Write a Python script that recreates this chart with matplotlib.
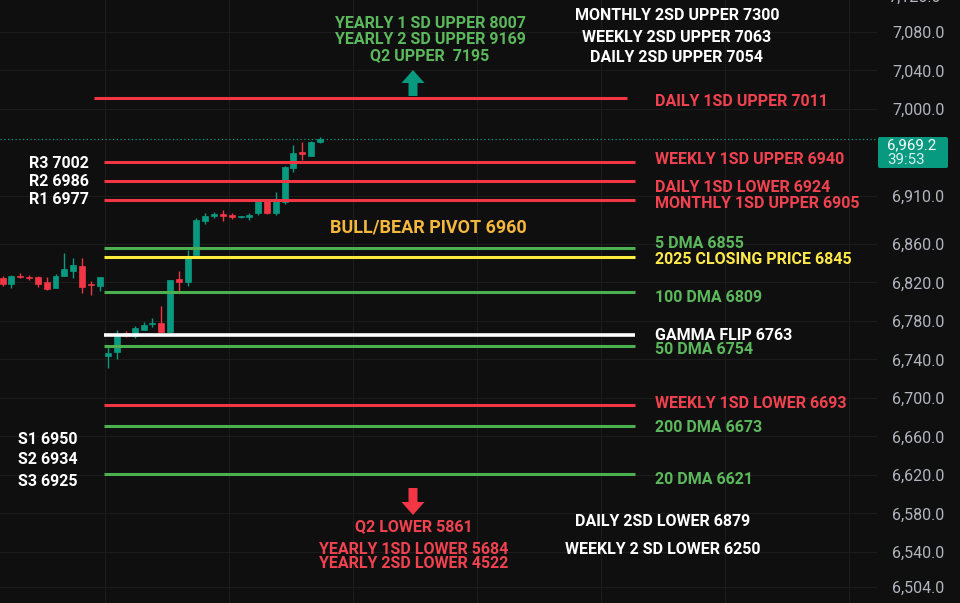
import matplotlib
matplotlib.use("Agg")
import matplotlib.pyplot as plt
from matplotlib.patches import Rectangle, FancyArrow, FancyBboxPatch

# ---------------- data ----------------
opens  = [6825, 6818, 6827, 6826, 6826, 6820, 6814, 6827, 6832, 6837, 6818, 6816,
          6744, 6748, 6767, 6764, 6771, 6777, 6778, 6768, 6823, 6820, 6848, 6884,
          6889, 6891, 6890, 6888, 6888, 6892, 6906, 6892, 6903, 6939, 6955, 6951, 6966]
highs  = [6827, 6828, 6830, 6828, 6827, 6826, 6829, 6850, 6845, 6845, 6821, 6826,
          6755, 6771, 6769, 6775, 6779, 6783, 6795, 6822, 6832, 6854, 6887, 6892,
          6893, 6895, 6892, 6889, 6892, 6905, 6907, 6914, 6941, 6963, 6966, 6967, 6971]
lows   = [6816, 6814, 6824, 6822, 6815, 6812, 6814, 6827, 6824, 6809, 6807, 6811,
          6731, 6740, 6763, 6762, 6771, 6774, 6768, 6767, 6810, 6816, 6848, 6881,
          6887, 6884, 6886, 6887, 6885, 6890, 6891, 6890, 6901, 6935, 6947, 6951, 6965]
closes = [6818, 6827, 6826, 6825, 6818, 6813, 6827, 6834, 6838, 6815, 6817, 6826,
          6747, 6766, 6764, 6773, 6776, 6778, 6768, 6822, 6820, 6846, 6885, 6889,
          6891, 6889, 6888, 6889, 6890, 6904, 6892, 6904, 6940, 6954, 6953, 6966, 6969]
last_price = 6969.2
countdown = "39:53"

level_values = [7011, 6945, 6925, 6906, 6856, 6846, 6810, 6765, 6754, 6693, 6671, 6621]
level_kinds  = ["red", "red", "red", "red", "green", "yellow", "green", "white",
                "green", "red", "green", "green"]

right_labels = ["DAILY 1SD UPPER 7011", "WEEKLY 1SD UPPER 6940", "DAILY 1SD LOWER 6924",
                "MONTHLY 1SD UPPER 6905", "5 DMA 6855", "2025 CLOSING PRICE 6845",
                "100 DMA 6809", "GAMMA FLIP 6763", "50 DMA 6754",
                "WEEKLY 1SD LOWER 6693", "200 DMA 6673", "20 DMA 6621"]
right_label_kinds = ["red", "red", "red", "red", "green", "yellow", "green", "white",
                     "green", "red", "green", "green"]

pivot_labels = ["R3 7002", "R2 6986", "R1 6977"]
support_labels = ["S1 6950", "S2 6934", "S3 6925"]
top_green = ["YEARLY 1 SD UPPER 8007", "YEARLY 2 SD UPPER 9169", "Q2 UPPER  7195"]
top_white = ["MONTHLY 2SD UPPER 7300", "WEEKLY 2SD UPPER 7063", "DAILY 2SD UPPER 7054"]
bottom_red = ["Q2 LOWER 5861", "YEARLY 1SD LOWER 5684", "YEARLY 2SD LOWER 4522"]
bottom_white = ["DAILY 2SD LOWER 6879", "WEEKLY 2 SD LOWER 6250"]
bull_bear = "BULL/BEAR PIVOT 6960"

yticks = [7080, 7040, 7000, 6910, 6860, 6820, 6780, 6740, 6700, 6660, 6620,
          6580, 6540, 6504]
top_partial_tick = 7120

# ---------------- style ----------------
BG = "#0f0f0f"
UP = "#089981"
DOWN = "#f23645"
COL = {"red": "#f23645", "green": "#4caf50", "yellow": "#ffeb3b", "white": "#ffffff"}
TXT = {"red": "#f0424f", "green": "#5cb85c", "yellow": "#ffe94a", "white": "#ffffff"}
FONT = "Roboto"
FS = 11.5

W, H = 960, 603
fig = plt.figure(figsize=(9.6, 6.03), dpi=100, facecolor=BG)
AXW = 877
ax = fig.add_axes([0, 0, AXW / W, 1])
ax.set_facecolor(BG)

STEP = 8.81  # pixels per bar
xmin = -0.3
xmax = xmin + AXW / STEP
ymax = 7113.2
ymin = 6487.0

def bx(px):
    return xmin + px / STEP

# grid
for t in yticks:
    ax.axhline(t, color="#1c1c1c", lw=0.8, zorder=0)
for gx in [105, 229, 353, 477, 601, 725, 849]:
    ax.axvline(bx(gx), color="#1c1c1c", lw=0.8, zorder=0)

# candles
bw = 0.68
for i, (o, h, l, c) in enumerate(zip(opens, highs, lows, closes)):
    col = UP if c >= o else DOWN
    ax.plot([i, i], [l, h], color=col, lw=1.0, zorder=3, solid_capstyle="butt")
    bot = min(o, c)
    hgt = max(abs(c - o), 0.8)
    ax.add_patch(Rectangle((i - bw / 2, bot), bw, hgt, facecolor=col, edgecolor=col,
                           lw=0.5, zorder=4))

# current price dotted line
ax.axhline(last_price, color=UP, lw=0.9, ls=(0, (1, 2)), zorder=2)

# horizontal levels
for k, (v, kind) in enumerate(zip(level_values, level_kinds)):
    if k == 0:
        x0, x1 = bx(94), bx(627)
    else:
        x0, x1 = bx(104), bx(635)
    ax.plot([x0, x1], [v, v], color=COL[kind], lw=2.2 if kind != "white" else 2.6,
            zorder=5, solid_capstyle="butt")

# y axis on right
ax.yaxis.tick_right()
ax.set_yticks(yticks)
ax.set_yticklabels([f"{t:,.1f}" for t in yticks])
ax.tick_params(axis="y", length=0, pad=11, labelsize=11.5, labelcolor="#b2b5be")
for lab in ax.get_yticklabels():
    lab.set_fontfamily(FONT)
ax.set_xticks([])
for s in ax.spines.values():
    s.set_visible(False)
ax.set_xlim(xmin, xmax)
ax.set_ylim(ymin, ymax)

# overlay axes in pixel space (y down) for annotations
aax = fig.add_axes([0, 0, 1, 1], facecolor="none")
aax.set_xlim(0, W)
aax.set_ylim(H, 0)
aax.axis("off")

# partially visible top tick label (cut at the top edge, as on the source)
aax.text(888, -3, f"{top_partial_tick:,.1f}", color="#b2b5be", fontsize=11.5,
         family=FONT, ha="left", va="center", clip_on=True)

# price box
aax.add_patch(FancyBboxPatch((878, 137), 70, 31, boxstyle="round,pad=0,rounding_size=2",
                             facecolor=UP, edgecolor="none", zorder=10))
aax.text(887, 145, f"{last_price:,.1f}", color="white", fontsize=10.8,
         family=FONT, va="center", ha="left", zorder=11)
aax.text(887, 160, countdown, color="#d8f0ec", fontsize=10.8,
         family=FONT, va="center", ha="left", zorder=11)

def lbl(x, y, s, color, ha="left", size=FS):
    aax.text(x, y, s, color=color, fontsize=size, family=FONT,
             fontweight="bold", ha=ha, va="center", zorder=12)

right_y = [101, 160, 188, 203, 243, 259, 297, 336, 350, 404, 428, 479]
for s, kind, y in zip(right_labels, right_label_kinds, right_y):
    lbl(655, y, s, TXT[kind])

for s, y in zip(pivot_labels, [164, 182, 199]):
    lbl(89, y, s, "#ffffff", ha="right")
for s, y in zip(support_labels, [440, 460, 482]):
    lbl(18, y, s, "#ffffff")

for s, y in zip(top_green, [24, 39, 56]):
    lbl(430, y, s, TXT["green"], ha="center")
for s, y in zip(top_white, [15, 37, 58]):
    lbl(677, y, s, "#ffffff", ha="center")
for s, y in zip(bottom_red, [527, 549, 564]):
    lbl(414, y, s, TXT["red"], ha="center")
for s, y in zip(bottom_white, [522, 549]):
    lbl(663, y, s, "#ffffff", ha="center")
lbl(428, 228, bull_bear, "#f5b83d", ha="center", size=13)

# arrows
aax.add_patch(FancyArrow(413, 96, 0, -26, width=9, head_width=23, head_length=13,
                         length_includes_head=True, facecolor=UP, edgecolor="none"))
aax.add_patch(FancyArrow(413, 488, 0, 27, width=9, head_width=23, head_length=13,
                         length_includes_head=True, facecolor=DOWN, edgecolor="none"))

fig.savefig("out.png", dpi=100, facecolor=BG)
